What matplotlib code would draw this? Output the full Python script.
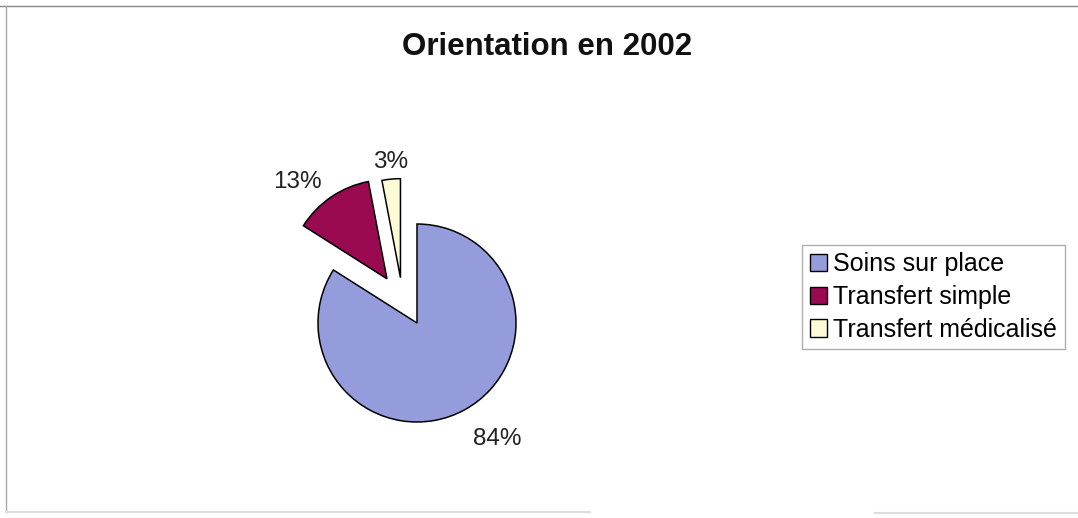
import matplotlib.pyplot as plt
from matplotlib.lines import Line2D

plt.rcParams['font.family'] = ['Liberation Sans', 'DejaVu Sans']

labels = ['Soins sur place', 'Transfert simple', 'Transfert médicalisé']
values = [84, 13, 3]
colors = ['#959cdc', '#9a0a50', '#fdfbd6']
explode = [0, 0.54, 0.5]

fig = plt.figure(figsize=(10.78, 5.18), dpi=100)

# pie axes: centre around (417, 323) px, radius ~99 px
ax = fig.add_axes([219 / 1078, -3 / 518, 396 / 1078, 396 / 518])
wedges, texts, autotexts = ax.pie(
    values, colors=colors, explode=explode, startangle=90, counterclock=False,
    autopct='%1.0f%%', pctdistance=1.3,
    wedgeprops=dict(edgecolor='black', linewidth=1.1),
    textprops=dict(fontsize=17.5, color='#222222'))
ax.set_xlim(-2, 2)
ax.set_ylim(-2, 2)
ax.axis('off')

# Excel pulls the small slice out a bit to the left, nudge it and the labels
cx, cy = wedges[2].center
wedges[2].set_center((cx - 0.12, cy - 0.04))
nudges = [(0.18, -0.03), (-0.17, -0.10), (-0.10, -0.17)]
for t, (dx, dy) in zip(autotexts, nudges):
    x, y = t.get_position()
    t.set_position((x + dx, y + dy))

fig.text(547 / 1078, 1 - 47 / 518, 'Orientation en 2002', ha='center', va='center',
         fontsize=22.5, fontweight='bold', color='#111111')

leg = fig.legend(wedges, labels, loc='center left',
                 bbox_to_anchor=(802 / 1078, 1 - 297 / 518),
                 fontsize=18, frameon=True, fancybox=False, shadow=False,
                 handlelength=0.7, handleheight=0.7, handletextpad=0.25,
                 borderpad=0.3, labelspacing=0.35, borderaxespad=0)
leg.get_frame().set_edgecolor('#999999')
leg.get_frame().set_linewidth(1)
for h in leg.legend_handles:
    h.set_edgecolor('black')
    h.set_linewidth(1)

# thin gray frame around the chart area
fig.add_artist(Line2D([0, 1], [1 - 6 / 518] * 2, color='#888888', lw=1))
fig.add_artist(Line2D([6 / 1078] * 2, [1 - 6 / 518, 6 / 518], color='#aaaaaa', lw=1))
fig.add_artist(Line2D([6 / 1078, 590 / 1078], [6 / 518] * 2, color='#dddddd', lw=1.5))
fig.add_artist(Line2D([875 / 1078, 1], [5 / 518] * 2, color='#dddddd', lw=1.5))

fig.savefig('out.png', dpi=100)
